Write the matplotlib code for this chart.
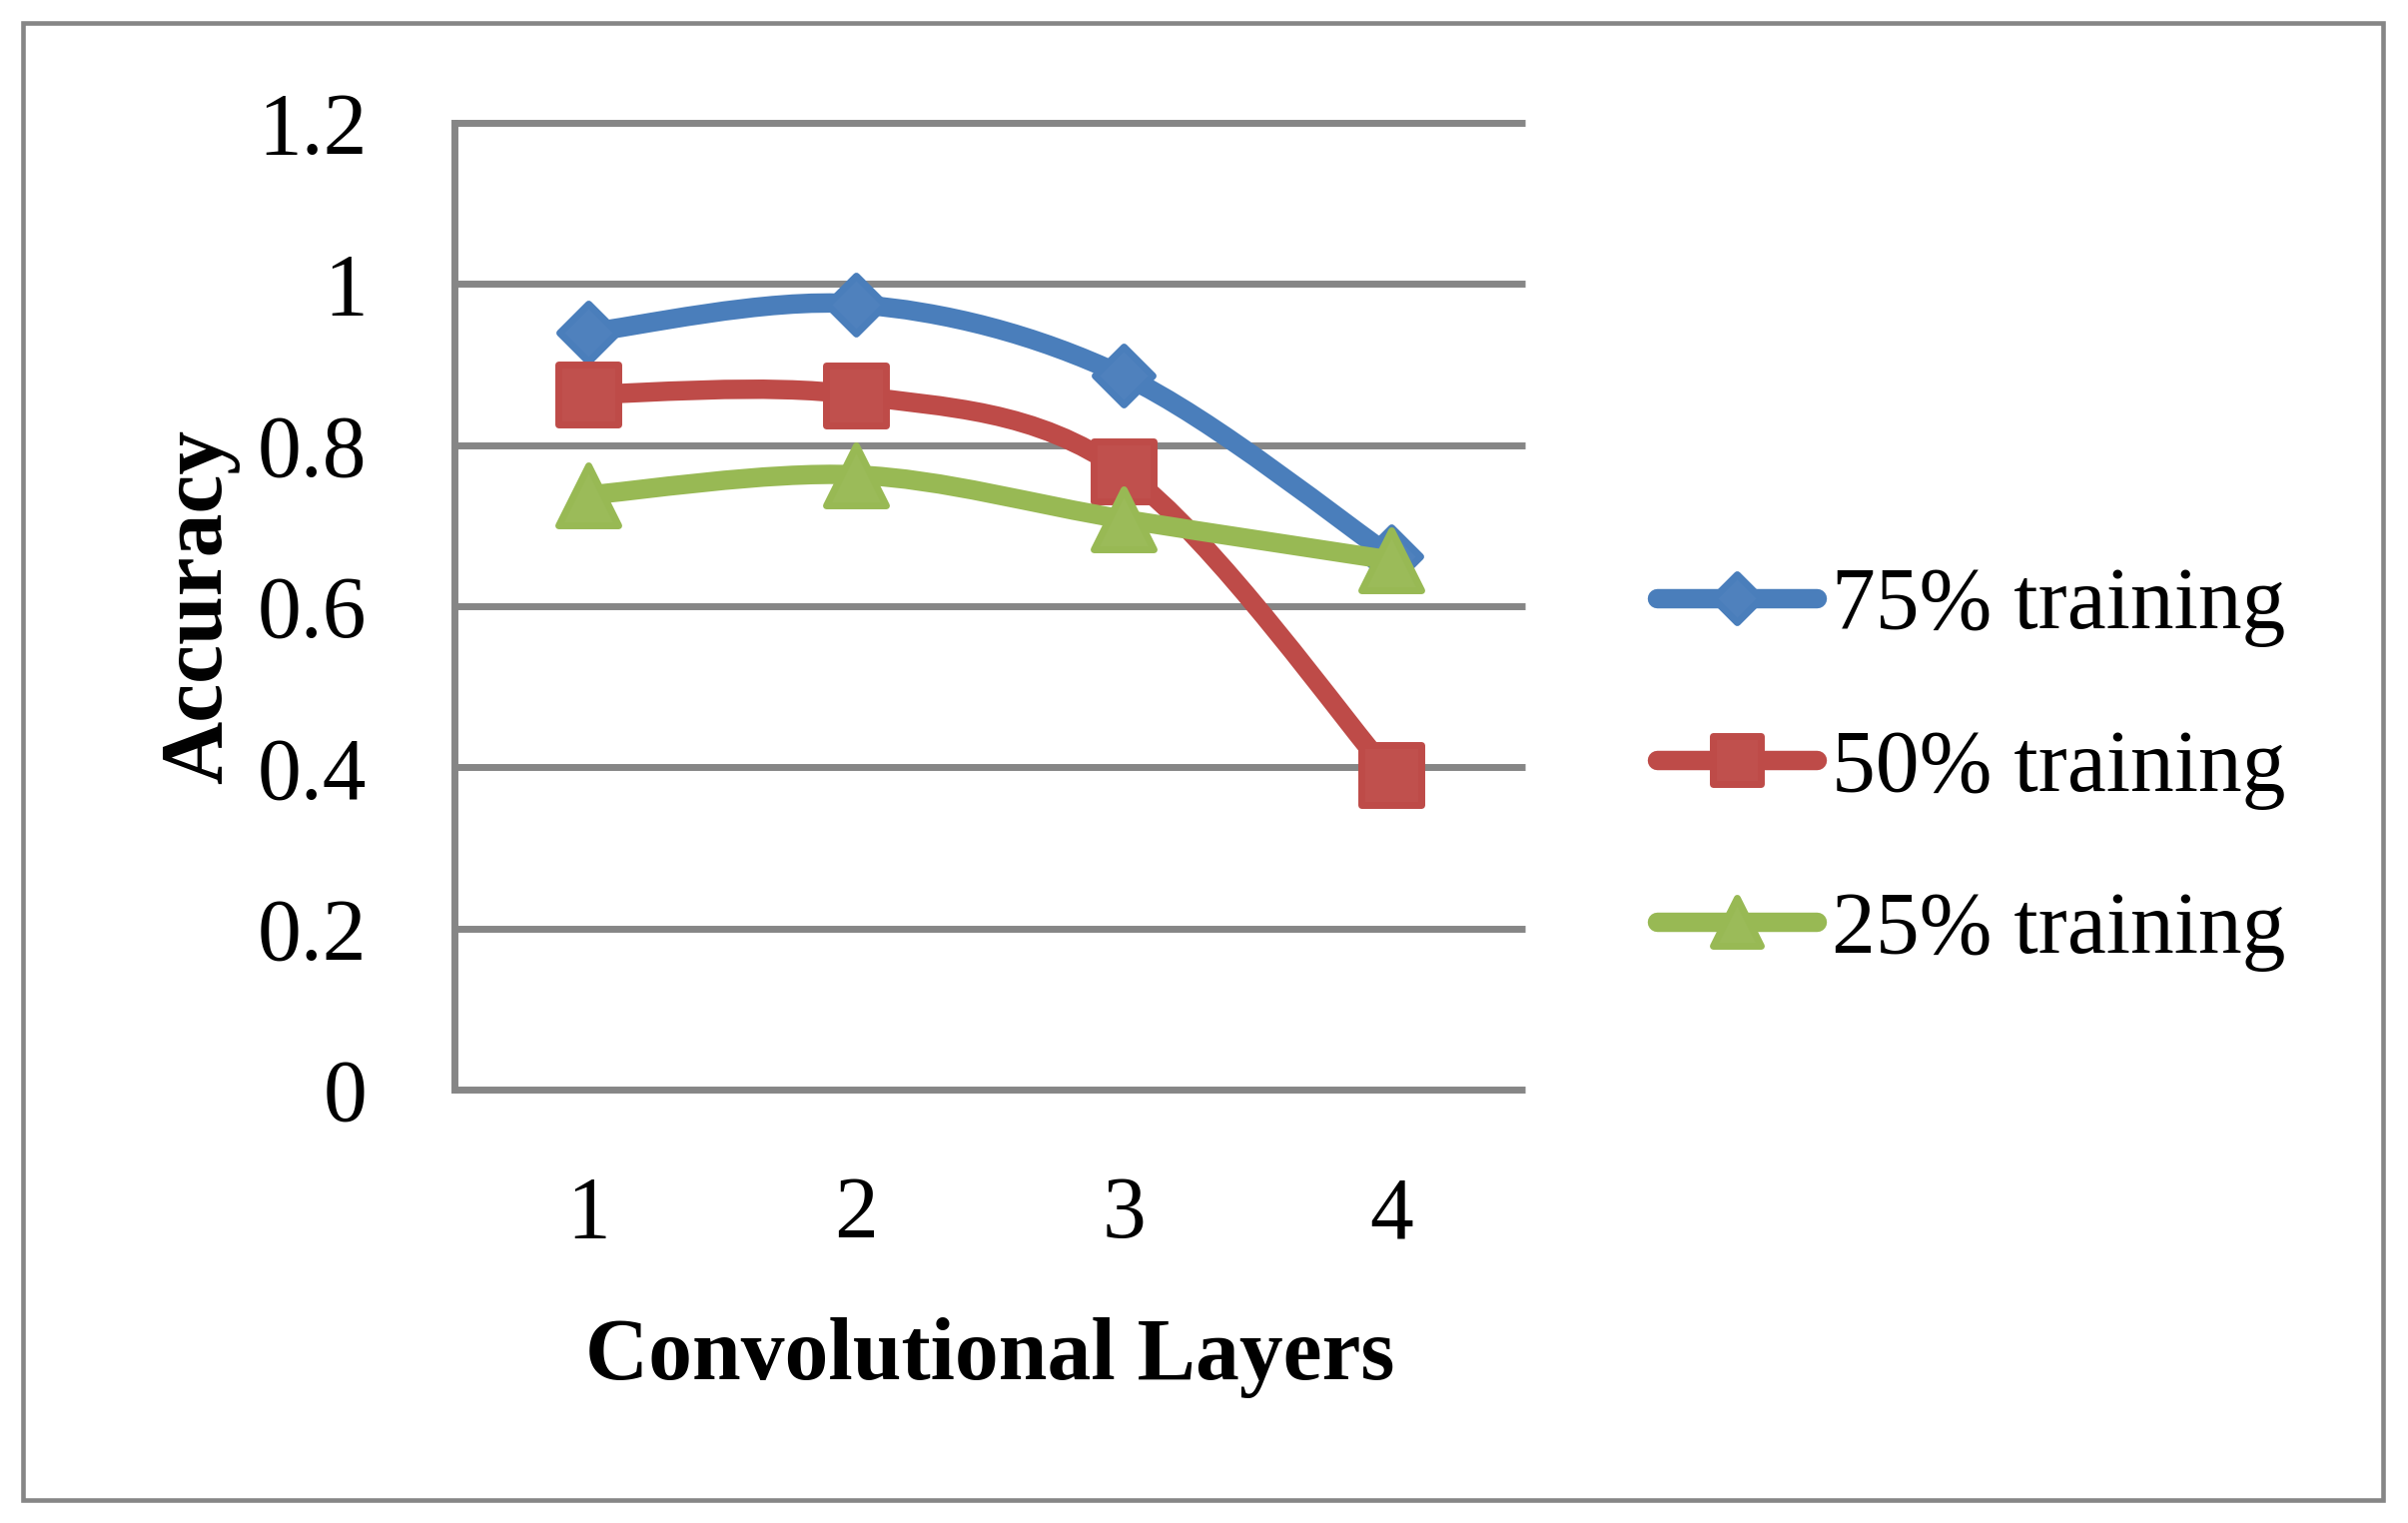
#!/usr/bin/env python3

import numpy as np
import matplotlib
matplotlib.use("Agg")
from matplotlib import pyplot as plt
from matplotlib.path import Path
from matplotlib.patches import PathPatch, Rectangle
from matplotlib.lines import Line2D
from matplotlib.markers import MarkerStyle

layers = [1, 2, 3, 4]
acc_75 = [0.94, 0.975, 0.886, 0.662]
acc_50 = [0.863, 0.862, 0.767, 0.39]
acc_25 = [0.738, 0.763, 0.708, 0.657]
series_labels = ["75% training", "50% training", "25% training"]
y_ticks = [0, 0.2, 0.4, 0.6, 0.8, 1, 1.2]
y_tick_labels = ["0", "0.2", "0.4", "0.6", "0.8", "1", "1.2"]

LINE_COLORS = ["#4A7EBB", "#BE4B48", "#98B954"]
FILL_COLORS = ["#4F81BD", "#C0504D", "#9BBB59"]
MARKERS = ["D", "s", "^"]
MARKER_SIZES = [30, 42.5, 42.5]
GRID = "#868686"
FS = 63

W, H = 2411, 1525


def smooth_path(xs, ys):
    # Excel-style smoothed line: cubic bezier through every point
    pts = np.column_stack([xs, ys]).astype(float)
    n = len(pts)
    verts = [pts[0]]
    codes = [Path.MOVETO]
    for i in range(n - 1):
        p0 = pts[max(i - 1, 0)]
        p1 = pts[i]
        p2 = pts[i + 1]
        p3 = pts[min(i + 2, n - 1)]
        verts += [p1 + (p2 - p0) / 6, p2 - (p3 - p1) / 6, p2]
        codes += [Path.CURVE4] * 3
    return Path(verts, codes)


def draw_chart():
    plt.rcParams['font.family'] = ['Liberation Serif', 'DejaVu Serif']
    plt.rcParams['font.size'] = FS

    fig = plt.figure(figsize=(W / 100, H / 100), dpi=100)
    ax = fig.add_axes([455 / W, 1 - 1091 / H, (1527 - 455) / W, (1091 - 123) / H])

    ax.set_xlim(0.5, 4.5)
    ax.set_ylim(0, 1.2)
    ax.set_xticks(layers)
    ax.set_yticks(y_ticks, y_tick_labels)
    ax.tick_params(axis='both', length=0, labelsize=FS)
    ax.tick_params(axis='y', pad=63)
    ax.tick_params(axis='x', pad=62)

    for side in ('top', 'right', 'bottom'):
        ax.spines[side].set_visible(False)
    ax.spines['left'].set_color(GRID)
    ax.spines['left'].set_linewidth(5)
    ax.spines['left'].set_zorder(1)

    for yv in y_ticks:
        ax.axhline(yv, color=GRID, lw=5, clip_on=False, zorder=1, solid_capstyle='butt')

    handles = []
    all_series = [acc_75, acc_50, acc_25]
    for k, vals in enumerate(all_series):
        z = 3 + 2 * k
        patch = PathPatch(smooth_path(layers, vals), fill=False, ec=LINE_COLORS[k],
                          lw=14, capstyle='round', joinstyle='round', zorder=z)
        ax.add_patch(patch)
        mk = MarkerStyle(MARKERS[k], joinstyle='round')
        ax.plot(layers, vals, linestyle='none', marker=mk, ms=MARKER_SIZES[k],
                mfc=FILL_COLORS[k], mec=LINE_COLORS[k], mew=5, zorder=z + 1, clip_on=False)
        handles.append(Line2D([], [], color=LINE_COLORS[k], lw=14, solid_capstyle='round',
                              marker=mk, ms=MARKER_SIZES[k], mfc=FILL_COLORS[k],
                              mec=LINE_COLORS[k], mew=5))

    ax.set_xlabel("Convolutional Layers", fontweight='bold', fontsize=FS, labelpad=44)
    ax.set_ylabel("Accuracy", fontweight='bold', fontsize=FS, labelpad=13)

    fig.legend(handles, series_labels, loc='center left',
               bbox_to_anchor=(1659 / W, 1 - 770 / H), frameon=False,
               borderpad=0, borderaxespad=0, handlelength=1.83, handletextpad=0.17,
               labelspacing=0.93, markerscale=0.83, fontsize=FS)

    fig.patches.append(Rectangle((23 / W, 23 / H), (2386 - 23) / W, (1502 - 23) / H,
                                 transform=fig.transFigure, fill=False, ec=GRID, lw=3.3))

    fig.savefig("out.png", dpi=100)


if __name__ == '__main__':
    draw_chart()
